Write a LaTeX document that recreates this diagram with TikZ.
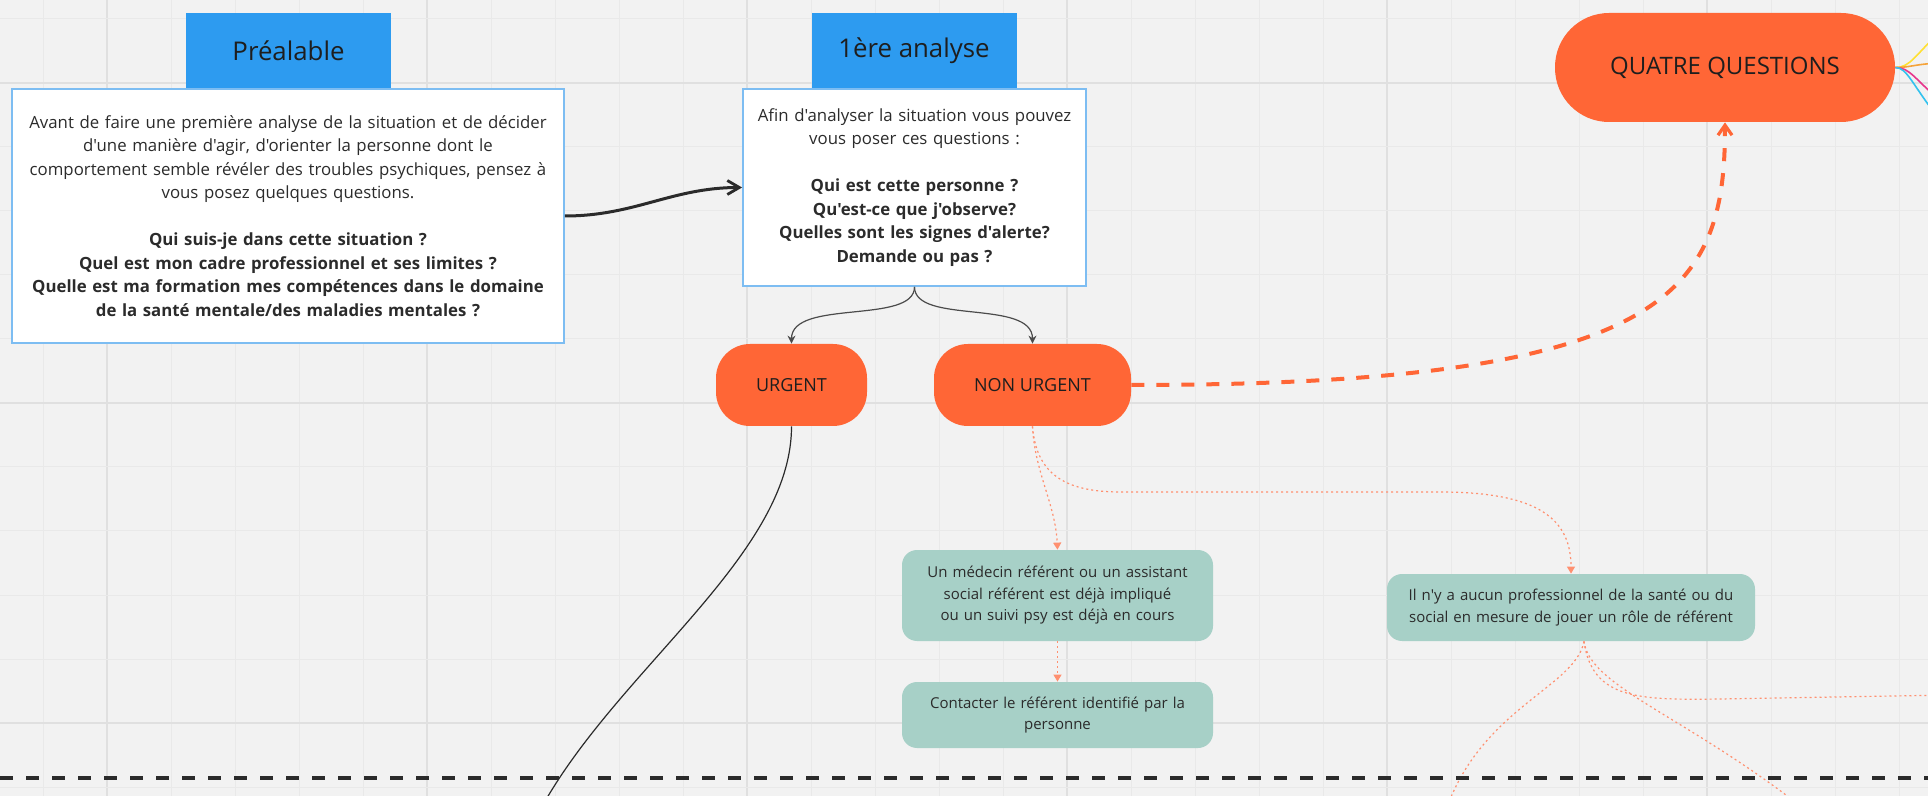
\documentclass[tikz,border=0pt]{standalone}
\usepackage{fontspec}
\setmainfont{Open Sans}[Ligatures=TeXOff]
\usetikzlibrary{arrows.meta}
\definecolor{bg}{HTML}{F2F2F2}
\definecolor{gridminor}{HTML}{E9E9E9}
\definecolor{gridmajor}{HTML}{E0E0E0}
\definecolor{mblue}{HTML}{2D9BF0}
\definecolor{bborder}{HTML}{7DBDF2}
\definecolor{morange}{HTML}{FF6636}
\definecolor{lorange}{HTML}{FF9070}
\definecolor{mteal}{HTML}{A7D0C7}
\definecolor{txt}{HTML}{2B2B2B}
\definecolor{txtdark}{HTML}{1E1E1E}
\definecolor{ylw}{HTML}{FFE033}
\definecolor{org}{HTML}{F5A33A}
\definecolor{pnk}{HTML}{E8358C}
\definecolor{cyn}{HTML}{33C2EE}
\tikzset{
  hdr/.style={fill=mblue, text=txtdark, font=\fontsize{12.9}{15}\selectfont, minimum width=102.5pt, minimum height=38pt, inner sep=0pt},
  wbox/.style={fill=white, draw=bborder, line width=0.9pt, align=center, inner ysep=0pt, text=txt, font=\fontsize{8.4}{11.75}\selectfont},
  pill/.style={fill=morange, text=txtdark, inner sep=0pt, minimum height=41pt, font=\fontsize{9}{11}\selectfont},
  tbox/.style={fill=mteal, rounded corners=7.5pt, align=center, text=txt, inner xsep=4pt, inner ysep=0pt, font=\fontsize{7.5}{10.75}\selectfont},
  blackcon/.style={draw=txt, line width=1.5pt, -{Straight Barb[length=6pt,width=7pt,line width=1.4pt]}},
  thincon/.style={draw=txt!85, line width=0.6pt, -{Stealth[length=4pt,width=4pt]}},
  dotcon/.style={draw=lorange, line width=0.6pt, dash pattern=on 1pt off 1.5pt},
  dotarrow/.style={dotcon, -{Triangle[length=3.5pt,width=4pt]}},
  orangedash/.style={draw=morange, line width=2pt, dash pattern=on 6.5pt off 6pt, -{Straight Barb[length=5pt,width=7pt,line width=1.6pt]}},
}
\begin{document}
\begin{tikzpicture}[x=0.5pt,y=-0.5pt]
\useasboundingbox (0,0) rectangle (1928,796);
\clip (0,0) rectangle (1928,796);
\fill[bg] (0,0) rectangle (1928,796);
% grid
\foreach \i in {0,...,29} {
  \pgfmathtruncatemacro{\gx}{43+64*\i}
  \pgfmathtruncatemacro{\m}{mod(\i,5)}
  \ifnum\m=1 \draw[gridmajor, line width=0.7pt] (\gx,0) -- (\gx,796);
  \else \draw[gridminor, line width=0.5pt] (\gx,0) -- (\gx,796); \fi
}
\foreach \j in {0,...,12} {
  \pgfmathtruncatemacro{\gy}{19+64*\j}
  \pgfmathtruncatemacro{\m}{mod(\j,5)}
  \ifnum\m=1 \draw[gridmajor, line width=0.7pt] (0,\gy) -- (1928,\gy);
  \else \draw[gridminor, line width=0.5pt] (0,\gy) -- (1928,\gy); \fi
}
% headers
\node[hdr] (prehdr) at (288.5,51) {Préalable};
\node[hdr] (anahdr) at (914,51) {1ère analyse};
% boxes
\node[wbox, text width=268pt, inner xsep=4pt, minimum height=127pt] (pre) at (288,216) {%
Avant de faire une première analyse de la situation et de décider\\
d'une manière d'agir, d'orienter la personne dont le\\
comportement semble révéler des troubles psychiques, pensez à\\
vous posez quelques questions.\\[11.75pt]
\textbf{Qui suis-je dans cette situation ?}\\
\textbf{Quel est mon cadre professionnel et ses limites ?}\\
\textbf{Quelle est ma formation mes compétences dans le domaine}\\
\textbf{de la santé mentale/des maladies mentales ?}};
\node[wbox, text width=164pt, inner xsep=3.75pt, minimum height=98.5pt] (ana) at (914.5,187.5) {%
Afin d'analyser la situation vous pouvez\\
vous poser ces questions :\\[11.75pt]
\textbf{Qui est cette personne ?}\\
\textbf{Qu'est-ce que j'observe?}\\
\textbf{Quelles sont les signes d'alerte?}\\
\textbf{Demande ou pas ?}};
% pills
\node[pill, rounded corners=17pt, minimum width=75.5pt] (urg) at (791.5,385) {URGENT};
\node[pill, rounded corners=17pt, minimum width=98.5pt] (nurg) at (1032.5,385) {NON URGENT};
\node[pill, rounded corners=27pt, minimum width=170pt, minimum height=54.5pt, font=\fontsize{12}{14}\selectfont] (qq) at (1725,67.5) {QUATRE QUESTIONS};
% teal boxes
\node[tbox, text width=147.5pt, minimum height=45.5pt] (med) at (1057.5,595.5) {%
Un médecin référent ou un assistant\\
social référent est déjà impliqué\\
ou un suivi psy est déjà en cours};
\node[tbox, text width=147.5pt, minimum height=33pt] (con) at (1057.5,715) {%
Contacter le référent identifié par la\\
personne};
\node[tbox, text width=176pt, minimum height=33.5pt] (nil) at (1571,607.5) {%
Il n'y a aucun professionnel de la santé ou du\\
social en mesure de jouer un rôle de référent};
% connectors
\draw[blackcon] (pre.east) .. controls +(70,0) and +(-70,0) .. (ana.west);
\draw[thincon] (ana.south) .. controls +(0,38) and +(0,-45) .. (urg.north);
\draw[thincon] (ana.south) .. controls +(0,38) and +(0,-45) .. (nurg.north);
\coordinate (urgout) at (530,830);
\draw[draw=txt, line width=0.6pt] (urg.south) .. controls +(0,135) and (600,680) .. (urgout);
\draw[orangedash] (nurg.east) .. controls +(540,0) and +(0,170) .. (qq.south);
\draw[dotarrow] (nurg.south) .. controls +(2,45) and +(-2,-45) .. (med.north);
\draw[dotarrow] (nurg.south) .. controls (1036,470) and (1060,492) .. (1120,492) -- (1440,492) .. controls (1540,492) and (1571,520) .. (nil.north);
\draw[dotarrow] (med.south) -- (con.north);
\coordinate (nilout) at ([xshift=6.5pt]nil.south);
\coordinate (exa) at (1440,830);
\coordinate (exb) at (1830,830);
\coordinate (exc) at (1950,695);
\draw[dotcon] (nilout) .. controls (1575,690) and (1470,710) .. (exa);
\draw[dotcon] (nilout) .. controls (1590,690) and (1700,720) .. (exb);
\draw[dotcon] (nilout) .. controls (1592,700) and (1640,700) .. (1720,699) -- (exc);
% colored branches from QUATRE QUESTIONS
\coordinate (ya) at (1940,32);
\coordinate (oa) at (1940,63);
\coordinate (pa) at (1940,100);
\coordinate (ca) at (1940,120);
\draw[ylw, line width=0.8pt] (qq.east) .. controls +(15,0) and (1915,55) .. (ya);
\draw[org, line width=0.8pt] (qq.east) .. controls +(15,0) and (1915,64) .. (oa);
\draw[pnk, line width=0.8pt] (qq.east) .. controls +(15,0) and (1915,80) .. (pa);
\draw[cyn, line width=0.8pt] (qq.east) .. controls +(12,0) and (1912,85) .. (ca);
% dashed separator
\draw[txt, line width=2pt, dash pattern=on 6.5pt off 6.5pt] (0,778) -- (1928,778);
\end{tikzpicture}
\end{document}
